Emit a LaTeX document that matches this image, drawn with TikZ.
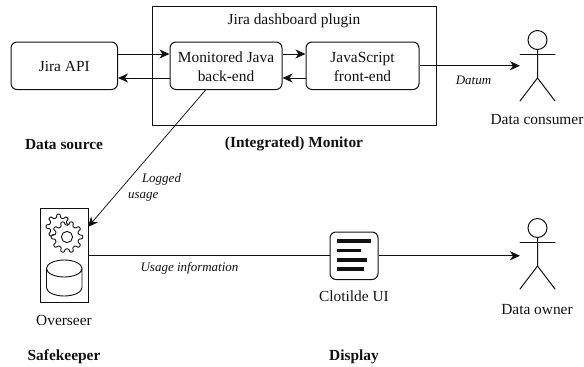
\documentclass[tikz,border=0pt]{standalone}
\usepackage{fontspec}
\setmainfont{Liberation Serif}
\usetikzlibrary{arrows.meta,shapes.geometric}
\definecolor{ink}{HTML}{111111}
\newcommand{\fs}{\fontsize{15.4}{18}\selectfont}
\newcommand{\lowertext}{\rule{0pt}{12.5pt}}
\tikzset{
  x=1pt,y=-1pt,
  every node/.style={font=\fs,text=ink},
  line/.style={draw=ink,line width=1pt},
  flow/.style={line,-{Stealth[length=10pt,width=9pt,inset=3pt]}},
  comp/.style={line,rounded corners=6pt,minimum width=#1,minimum height=47.5pt,inner sep=0pt,align=center},
  comp/.default=112pt,
  plain/.style={inner sep=0pt,align=center,yshift=-1.2pt},
  heading/.style={inner sep=0pt,font=\fs\bfseries,yshift=-1.2pt},
  flowlabel/.style={inner sep=0pt,align=left,font=\fontsize{13}{16}\selectfont\itshape,yshift=-1.2pt},
  stick/.style={line,line cap=round},
  gearline/.style={draw=ink,line width=0.9pt,fill=white,line join=round},
}
\newcommand{\actor}[3]{% name, x, y of head centre
  \coordinate (#1) at (#2,#3);
  \draw[stick] (#2,#3) circle (9.5pt);
  \draw[stick] (#2,#3+9.5) -- (#2,#3+38) -- (#2-17.5,#3+61);
  \draw[stick] (#2,#3+38) -- (#2+17.5,#3+61);
  \draw[stick] (#2-17.5,#3+14) -- (#2+17.5,#3+14);
}
\newcommand{\gear}[5]{% cx cy outer inner teeth
  \pgfmathsetmacro{\stepang}{360/#5}
  \draw[gearline,rounded corners=0.7pt] (#1,#2)
    ++({#4*cos(-0.30*\stepang)},{#4*sin(-0.30*\stepang)})
    \foreach \i in {1,...,#5}{
      -- ({#1+#3*cos((\i-1)*\stepang-0.16*\stepang)},{#2+#3*sin((\i-1)*\stepang-0.16*\stepang)})
      -- ({#1+#3*cos((\i-1)*\stepang+0.16*\stepang)},{#2+#3*sin((\i-1)*\stepang+0.16*\stepang)})
      -- ({#1+#4*cos((\i-1)*\stepang+0.30*\stepang)},{#2+#4*sin((\i-1)*\stepang+0.30*\stepang)})
      -- ({#1+#4*cos(\i*\stepang-0.30*\stepang)},{#2+#4*sin(\i*\stepang-0.30*\stepang)})
    } -- cycle;
}
\begin{document}
\begin{tikzpicture}
\useasboundingbox (0,0) rectangle (584,367);
% containers
\node[line,minimum width=284pt,minimum height=118.5pt,inner sep=0pt] (plugin) at (294,65.75) {};
\node[plain] (plugintitle) at (294,19.5) {Jira dashboard plugin};
\node[comp=106.5pt] (api) at (64.25,65.75) {\lowertext Jira API};
\node[comp=112pt] (java) at (226,65.75) {\lowertext Monitored Java\\[0.5pt]back-end};
\node[comp=113pt] (js) at (362.5,65.75) {\lowertext JavaScript\\[0.5pt]front-end};
% overseer
\node[line,minimum width=47.5pt,minimum height=94.7pt,inner sep=0pt] (overseer) at (64.25,255.35) {};
\gear{58.5}{226.5}{12.5}{9}{8}
\gear{67}{237}{15.8}{12}{10}
\draw[gearline] (67,237) circle (5.6pt);
\draw[gearline] (46.5,268.5) arc[start angle=180,end angle=0,x radius=17.75pt,y radius=-8.5pt] -- (82,287.5) arc[start angle=0,end angle=180,x radius=17.75pt,y radius=-8.5pt] -- cycle;
\draw[gearline,fill=none] (46.5,268.5) arc[start angle=180,end angle=360,x radius=17.75pt,y radius=-8.5pt];
% display
\node[line,rounded corners=6pt,minimum width=48pt,minimum height=47.5pt,inner sep=0pt] (ui) at (354,255.75) {};
\foreach \yy/\xx in {241/371,250.5/360.5,260/366.5,269/364}{
  \draw[draw=ink,line width=3.3pt] (337,\yy) -- (\xx,\yy);
}
% actors
\actor{consumer}{537.5}{40}
\actor{owner}{537.5}{228}
\coordinate (consumerhand) at (520,65.75);
\coordinate (ownerhand) at (520,255.75);
% connectors
\draw[flow] (api.east |- 0,54) -- (java.west |- 0,54);
\draw[flow] (java.west |- 0,78) -- (api.east |- 0,78);
\draw[flow] (java.east |- 0,54) -- (js.west |- 0,54);
\draw[flow] (js.west |- 0,78) -- (java.east |- 0,78);
\draw[flow] (js.east) -- (consumerhand);
\coordinate (javaout) at (206,89.5);
\coordinate (overseerin) at (88,227);
\draw[flow,line width=0.75pt] (javaout) -- (overseerin);
\draw[line] (overseer.east |- ui.west) -- (ui.west);
\draw[flow] (ui.east) -- (ownerhand);
% labels
\node[plain] (consumerlabel) at (537,118.5) {Data consumer};
\node[plain] (ownerlabel) at (537,308) {Data owner};
\node[plain] (overseerlabel) at (64,319) {Overseer};
\node[plain] (uilabel) at (354,295) {Clotilde UI};
\node[heading] (h1) at (64,143) {Data source};
\node[heading] (h2) at (294,143) {(Integrated) Monitor};
\node[heading] (h3) at (64,356) {Safekeeper};
\node[heading] (h4) at (354,356) {Display};
\node[flowlabel] (datum) at (473.5,79) {Datum};
\node[flowlabel] (logged) at (154.5,186.5) {\hspace*{14pt}Logged\\usage};
\node[flowlabel] (usageinfo) at (189.5,267) {Usage information};
\end{tikzpicture}
\end{document}
